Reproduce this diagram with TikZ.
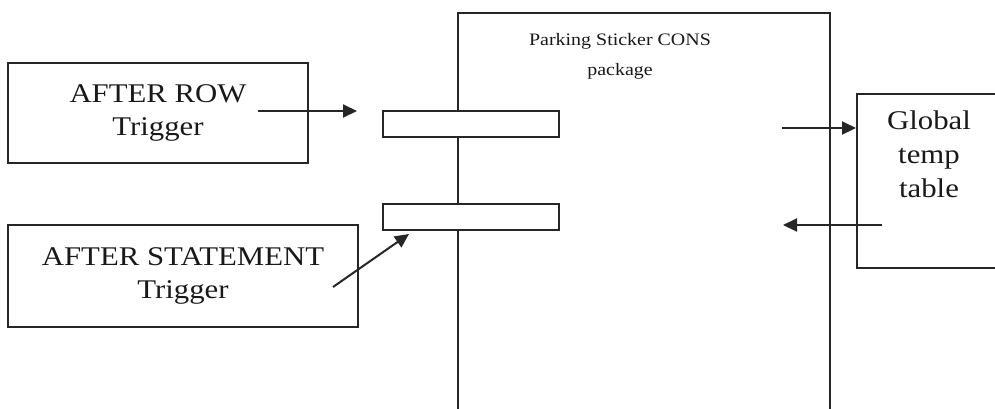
\documentclass[tikz,border=0pt]{standalone}
\usepackage{fontspec}
\setmainfont[FakeStretch=1.14]{Liberation Serif}
\usetikzlibrary{positioning, arrows.meta, calc}

\begin{document}
\begin{tikzpicture}[
			x=1pt, y=-1pt,
			box/.style={draw=black!85, line width=2pt, rectangle, align=center, inner sep=0pt, text=black!90, font=\fontsize{27}{33}\selectfont},
			slot/.style={draw=black!85, line width=2pt, fill=white, minimum width=176pt, minimum height=26pt, inner sep=0pt},
			arrow/.style={-{Triangle[length=14pt, width=13pt]}, line width=2pt, draw=black!85}
			]
			\useasboundingbox (0,0) rectangle (995,408);
			
			% Nodes
			\node[box, minimum width=372pt, minimum height=420pt] (pkg) at (644,223) {};
			
			\node[font=\fontsize{17.5}{30}\selectfont, text=black!90, align=center, inner sep=0pt, below=21pt of pkg.north, xshift=-24pt] (pkgtitle) {Parking Sticker CONS\\package};
			
			\node[slot] (slota) at (471,123.5) {};
			
			\node[slot] (slotb) at (471,216.5) {};
			
			\node[box, minimum width=300pt, minimum height=100pt] (rowtrig) at (158,113) {AFTER ROW\\Trigger};
			
			\node[box, minimum width=350pt, minimum height=102pt] (stmttrig) at (183,276) {AFTER STATEMENT\\Trigger};
			
			\node[box, minimum width=146pt, minimum height=174pt] (glob) at (930,181) {};
			
			\node[font=\fontsize{27}{34}\selectfont, text=black!90, align=center, inner sep=0pt, anchor=north] (globtext) at (929,111) {Global\\temp\\table};
			
			% Arrow ends
			\coordinate (rowout) at (258,111);
			\coordinate (slotain) at (357,111);
			\coordinate (stmtout) at (333,287);
			\coordinate (slotbin) at (409,234);
			\coordinate (pkgout) at (782,128);
			\coordinate (globout) at (882,225);
			\coordinate (pkgin) at (783,225);
			
			% Arrows
			\draw[arrow] (rowout) -- (slotain);
			
			\draw[arrow] (stmtout) -- (slotbin);
			
			\draw[arrow] (pkgout) -- (pkgout -| glob.west);
			
			\draw[arrow] (globout) -- (pkgin);
			
		\end{tikzpicture}
\end{document}
